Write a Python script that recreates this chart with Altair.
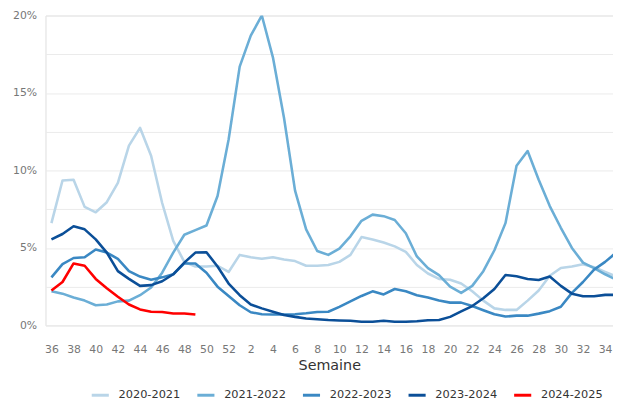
import altair as alt
import pandas as pd

weeks = ["36", "37", "38", "39", "40", "41", "42", "43", "44", "45", "46", "47",
         "48", "49", "50", "51", "52", "1", "2", "3", "4", "5", "6", "7", "8", "9",
         "10", "11", "12", "13", "14", "15", "16", "17", "18", "19", "20", "21",
         "22", "23", "24", "25", "26", "27", "28", "29", "30", "31", "32", "33",
         "34", "35"]

seasons = ["2020-2021", "2021-2022", "2022-2023", "2023-2024", "2024-2025"]
colors = ["#b9d5e8", "#6baed6", "#3a88c3", "#0b4f98", "#ff0000"]

s2020 = [6.6, 9.35, 9.4, 7.65, 7.3, 7.95, 9.2, 11.6, 12.75, 10.95, 7.9, 5.45,
         4.1, 3.8, 3.8, 3.85, 3.45, 4.55, 4.4, 4.3, 4.4, 4.25, 4.15, 3.85, 3.85,
         3.9, 4.1, 4.55, 5.7, 5.55, 5.35, 5.1, 4.75, 3.9, 3.35, 3.0, 2.95, 2.7,
         2.2, 1.6, 1.1, 1.0, 1.0, 1.6, 2.25, 3.2, 3.7, 3.8, 3.95, 3.75, 3.45, 3.15]
s2021 = [2.2, 2.05, 1.8, 1.6, 1.3, 1.35, 1.55, 1.6, 1.95, 2.45, 3.4, 4.7,
         5.85, 6.15, 6.45, 8.35, 12.0, 16.7, 18.7, 20.0, 17.3, 13.4, 8.7, 6.2,
         4.8, 4.55, 4.95, 5.75, 6.75, 7.15, 7.05, 6.8, 5.95, 4.45, 3.7, 3.25,
         2.5, 2.1, 2.55, 3.5, 4.85, 6.6, 10.3, 11.25, 9.4, 7.7, 6.3, 5.0, 4.05,
         3.7, 3.3, 2.95]
s2022 = [3.1, 3.95, 4.35, 4.4, 4.9, 4.7, 4.3, 3.5, 3.15, 2.95, 3.1, 3.3, 4.0,
         4.0, 3.4, 2.5, 1.9, 1.3, 0.85, 0.72, 0.7, 0.7, 0.72, 0.78, 0.87, 0.88,
         1.2, 1.55, 1.9, 2.2, 2.0, 2.35, 2.2, 1.95, 1.8, 1.6, 1.47, 1.47, 1.25,
         0.98, 0.72, 0.57, 0.63, 0.63, 0.76, 0.92, 1.2, 2.1, 2.8, 3.6, 4.1, 4.7]
s2023 = [5.55, 5.9, 6.4, 6.2, 5.55, 4.7, 3.5, 3.0, 2.55, 2.6, 2.85, 3.3, 4.05,
         4.7, 4.72, 3.8, 2.7, 1.95, 1.35, 1.1, 0.88, 0.67, 0.55, 0.45, 0.4, 0.35,
         0.32, 0.3, 0.24, 0.24, 0.3, 0.24, 0.24, 0.27, 0.33, 0.35, 0.55, 0.9,
         1.25, 1.75, 2.35, 3.25, 3.17, 3.0, 2.93, 3.15, 2.55, 2.05, 1.88, 1.88,
         1.97, 1.97]
s2024 = [2.25, 2.8, 4.0, 3.85, 3.0, 2.4, 1.85, 1.35, 1.03, 0.88, 0.87, 0.77,
         0.77, 0.7]

y_ticks = [0, 2.5, 5, 7.5, 10, 12.5, 15, 17.5, 20]

rows = []
for season, vals in zip(seasons, [s2020, s2021, s2022, s2023, s2024]):
    for pos, (wk, v) in enumerate(zip(weeks, vals)):
        rows.append({"pos": pos, "week": wk, "value": v, "season": season})
df = pd.DataFrame(rows)

# every other week is labelled (36, 38, ..., 52, 2, ..., 34)
x_label_pos = list(range(0, len(weeks) - 1, 2))
week_array = "[" + ",".join("'" + w + "'" for w in weeks) + "]"

chart = alt.Chart(df).mark_line(strokeWidth=2.6, strokeJoin="round", clip=True).encode(
    x=alt.X("pos:Q",
            scale=alt.Scale(domain=[-0.535, 50.71], nice=False, zero=False),
            axis=alt.Axis(values=x_label_pos, labelExpr=week_array + "[datum.value]",
                          title="Semaine", domain=False, ticks=False, grid=False,
                          labelColor="#777777", labelFontSize=11, labelFlush=False,
                          labelPadding=18, titleFontSize=14.5,
                          titleFontWeight="normal", titleColor="#333333",
                          titlePadding=5)),
    y=alt.Y("value:Q", scale=alt.Scale(domain=[0, 20], nice=False),
            axis=alt.Axis(values=y_ticks, title=None, domain=False, ticks=False,
                          labelExpr="datum.value % 5 == 0 ? datum.value + '%' : ''",
                          labelColor="#777777", labelFontSize=11,
                          labelPadding=9, gridColor="#ebebeb")),
    color=alt.Color("season:N", scale=alt.Scale(domain=seasons, range=colors),
                    legend=alt.Legend(orient="none", legendX=45, legendY=374,
                                      direction="horizontal", title=None,
                                      symbolType="stroke", symbolSize=300,
                                      symbolStrokeWidth=3, labelFontSize=11.5,
                                      labelColor="#333333", columnPadding=10,
                                      labelOffset=8)),
).properties(
    width=575, height=314,
    autosize=alt.AutoSizeParams(type="none"),
    padding={"top": 5, "left": 38, "right": 0, "bottom": 74},
).configure_view(stroke=None).configure(font="DejaVu Sans")

chart.save("out.html", embed_options={"renderer": "svg", "actions": False})
